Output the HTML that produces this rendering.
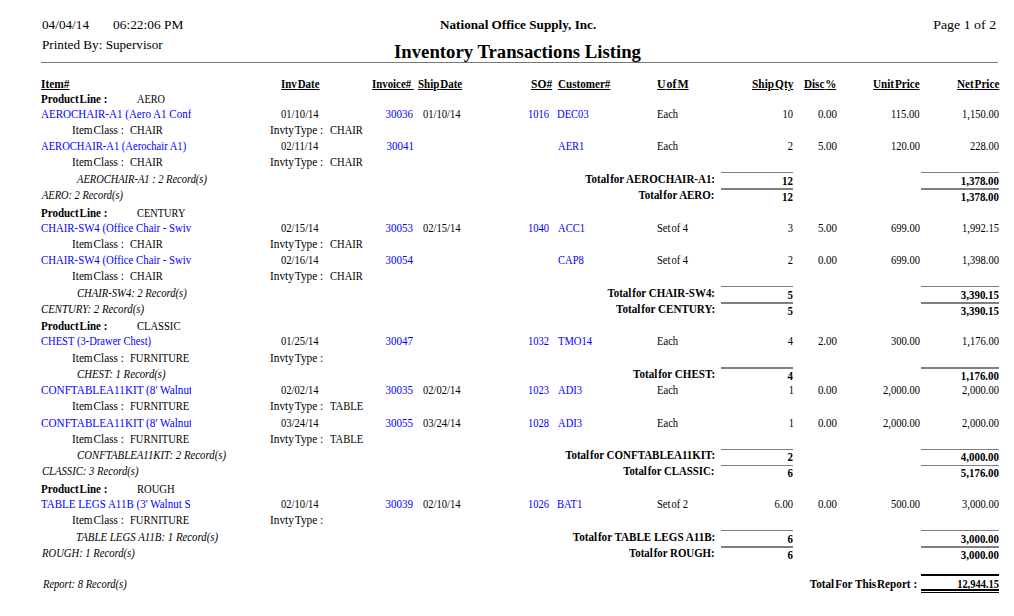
<!DOCTYPE html><html><head><meta charset="utf-8"><style>html,body{margin:0;padding:0;background:#fff;width:1014px;height:616px;overflow:hidden;position:relative}.t{position:absolute;white-space:pre;font-family:"Liberation Serif",serif;color:#000}.c{position:absolute;overflow:hidden;height:20px}.ln{position:absolute}.n{word-spacing:-2px}</style></head><body>
<div id="e0" class="t" style="font-size:13.5px;line-height:13.5px;font-weight:normal;font-style:normal;transform-origin:0 0;transform:scaleX(0.9792);left:41.81px;top:18px;">04/04/14</div>
<div id="e1" class="t" style="font-size:13.5px;line-height:13.5px;font-weight:normal;font-style:normal;transform-origin:0 0;transform:scaleX(0.9929);left:113.21px;top:18px;">06:22:06 PM</div>
<div id="e2" class="t" style="font-size:13.5px;line-height:13.5px;font-weight:normal;font-style:normal;transform-origin:0 0;transform:scaleX(0.9751);left:41.61px;top:38px;">Printed By: Supervisor</div>
<div id="e3" class="t" style="font-size:13px;line-height:13px;font-weight:bold;font-style:normal;transform-origin:0 0;transform:scaleX(1.0131);left:439.59px;top:18px;">National Office Supply, Inc.</div>
<div id="e4" class="t" style="font-size:18px;line-height:18px;font-weight:bold;font-style:normal;transform-origin:0 0;transform:scaleX(1.0405);left:394.19px;top:43px;">Inventory Transactions Listing</div>
<div id="e5" class="t" style="font-size:13.5px;line-height:13.5px;font-weight:normal;font-style:normal;transform-origin:100% 0;transform:scaleX(1.0301);right:17.60px;top:18px;">Page 1 of 2</div>
<div id="e6" class="t" style="font-size:12px;line-height:12px;font-weight:bold;font-style:normal;text-decoration:underline;transform-origin:0 0;transform:scaleX(0.9523);left:41.41px;top:78px;">Item#</div>
<div id="e7" class="t" style="font-size:12px;line-height:12px;font-weight:bold;font-style:normal;text-decoration:underline;transform-origin:0 0;transform:scaleX(0.9100);left:281.00px;top:78px;">Inv<span class=n> </span>Date</div>
<div id="e8" class="t" style="font-size:12px;line-height:12px;font-weight:bold;font-style:normal;text-decoration:underline;transform-origin:0 0;transform:scaleX(0.9035);left:371.80px;top:78px;">Invoice# </div>
<div id="e9" class="t" style="font-size:12px;line-height:12px;font-weight:bold;font-style:normal;text-decoration:underline;transform-origin:0 0;transform:scaleX(0.9143);left:418.21px;top:78px;">Ship<span class=n> </span>Date</div>
<div id="e10" class="t" style="font-size:12px;line-height:12px;font-weight:bold;font-style:normal;text-decoration:underline;transform-origin:0 0;transform:scaleX(0.9606);left:531.00px;top:78px;">SO#</div>
<div id="e11" class="t" style="font-size:12px;line-height:12px;font-weight:bold;font-style:normal;text-decoration:underline;transform-origin:0 0;transform:scaleX(0.9241);left:558.00px;top:78px;">Customer#</div>
<div id="e12" class="t" style="font-size:12px;line-height:12px;font-weight:bold;font-style:normal;text-decoration:underline;transform-origin:0 0;transform:scaleX(0.9887);left:656.80px;top:78px;">U<span class=n> </span>of<span class=n> </span>M</div>
<div id="e13" class="t" style="font-size:12px;line-height:12px;font-weight:bold;font-style:normal;text-decoration:underline;transform-origin:0 0;transform:scaleX(0.9465);left:752.00px;top:78px;">Ship<span class=n> </span>Qty</div>
<div id="e14" class="t" style="font-size:12px;line-height:12px;font-weight:bold;font-style:normal;text-decoration:underline;transform-origin:0 0;transform:scaleX(0.9244);left:803.60px;top:78px;">Disc<span class=n> </span>%</div>
<div id="e15" class="t" style="font-size:12px;line-height:12px;font-weight:bold;font-style:normal;text-decoration:underline;transform-origin:0 0;transform:scaleX(0.9259);left:873.40px;top:78px;">Unit<span class=n> </span>Price</div>
<div id="e16" class="t" style="font-size:12px;line-height:12px;font-weight:bold;font-style:normal;text-decoration:underline;transform-origin:0 0;transform:scaleX(0.9275);left:957.00px;top:78px;">Net<span class=n> </span>Price</div>
<div id="e17" class="t" style="font-size:12px;line-height:12px;font-weight:bold;font-style:normal;transform-origin:0 0;transform:scaleX(0.9156);left:41.40px;top:93px;">Product<span class=n> </span>Line :</div>
<div id="e18" class="t" style="font-size:12px;line-height:12px;font-weight:normal;font-style:normal;transform-origin:0 0;transform:scaleX(0.8560);left:136.81px;top:93px;">AERO</div>
<div class="c" style="left:41.20px;top:104px;width:150.10px"><div id="e19" class="t" style="font-size:12px;line-height:12px;font-weight:normal;font-style:normal;color:#0000ff;transform-origin:0 0;transform:scaleX(0.9188);left:-0.40px;top:4px;">AEROCHAIR-A1 (Aero A1 Conference Chair)</div></div>
<div id="e20" class="t" style="font-size:12px;line-height:12px;font-weight:normal;font-style:normal;transform-origin:100% 0;transform:scaleX(0.8825);right:695.61px;top:108px;">01/10/14</div>
<div id="e21" class="t" style="font-size:12px;line-height:12px;font-weight:normal;font-style:normal;color:#0000ff;transform-origin:100% 0;transform:scaleX(0.9177);right:601.41px;top:108px;">30036</div>
<div id="e22" class="t" style="font-size:12px;line-height:12px;font-weight:normal;font-style:normal;transform-origin:0 0;transform:scaleX(0.8825);left:422.81px;top:108px;">01/10/14</div>
<div id="e23" class="t" style="font-size:12px;line-height:12px;font-weight:normal;font-style:normal;color:#0000ff;transform-origin:100% 0;transform:scaleX(0.8800);right:465.00px;top:108px;">1016</div>
<div id="e24" class="t" style="font-size:12px;line-height:12px;font-weight:normal;font-style:normal;color:#0000ff;transform-origin:0 0;transform:scaleX(0.8800);left:557.00px;top:108px;">DEC03</div>
<div id="e25" class="t" style="font-size:12px;line-height:12px;font-weight:normal;font-style:normal;transform-origin:0 0;transform:scaleX(0.8800);left:656.80px;top:108px;">Each</div>
<div id="e26" class="t" style="font-size:12px;line-height:12px;font-weight:normal;font-style:normal;transform-origin:100% 0;transform:scaleX(0.8800);right:221.20px;top:108px;">10</div>
<div id="e27" class="t" style="font-size:12px;line-height:12px;font-weight:normal;font-style:normal;transform-origin:100% 0;transform:scaleX(0.9106);right:177.21px;top:108px;">0.00</div>
<div id="e28" class="t" style="font-size:12px;line-height:12px;font-weight:normal;font-style:normal;transform-origin:100% 0;transform:scaleX(0.8800);right:94.20px;top:108px;">115.00</div>
<div id="e29" class="t" style="font-size:12px;line-height:12px;font-weight:normal;font-style:normal;transform-origin:100% 0;transform:scaleX(0.8800);right:14.60px;top:108px;">1,150.00</div>
<div id="e30" class="t" style="font-size:12px;line-height:12px;font-weight:normal;font-style:normal;transform-origin:0 0;transform:scaleX(0.9382);left:72.34px;top:124px;">Item<span class=n> </span>Class :</div>
<div id="e31" class="t" style="font-size:12px;line-height:12px;font-weight:normal;font-style:normal;transform-origin:0 0;transform:scaleX(0.8800);left:129.80px;top:124px;">CHAIR</div>
<div id="e32" class="t" style="font-size:12px;line-height:12px;font-weight:normal;font-style:normal;transform-origin:0 0;transform:scaleX(0.9424);left:269.93px;top:124px;">Invty<span class=n> </span>Type :</div>
<div id="e33" class="t" style="font-size:12px;line-height:12px;font-weight:normal;font-style:normal;transform-origin:0 0;transform:scaleX(0.8800);left:329.80px;top:124px;">CHAIR</div>
<div class="c" style="left:41.20px;top:136px;width:150.10px"><div id="e34" class="t" style="font-size:12px;line-height:12px;font-weight:normal;font-style:normal;color:#0000ff;transform-origin:0 0;transform:scaleX(0.8818);left:-0.40px;top:4px;">AEROCHAIR-A1 (Aerochair A1)</div></div>
<div id="e35" class="t" style="font-size:12px;line-height:12px;font-weight:normal;font-style:normal;transform-origin:100% 0;transform:scaleX(0.8825);right:695.58px;top:140px;">02/11/14</div>
<div id="e36" class="t" style="font-size:12px;line-height:12px;font-weight:normal;font-style:normal;color:#0000ff;transform-origin:100% 0;transform:scaleX(0.9191);right:600.36px;top:140px;">30041</div>
<div id="e37" class="t" style="font-size:12px;line-height:12px;font-weight:normal;font-style:normal;color:#0000ff;transform-origin:0 0;transform:scaleX(0.8800);left:558.00px;top:140px;">AER1</div>
<div id="e38" class="t" style="font-size:12px;line-height:12px;font-weight:normal;font-style:normal;transform-origin:0 0;transform:scaleX(0.8800);left:656.80px;top:140px;">Each</div>
<div id="e39" class="t" style="font-size:12px;line-height:12px;font-weight:normal;font-style:normal;transform-origin:100% 0;transform:scaleX(0.8800);right:221.20px;top:140px;">2</div>
<div id="e40" class="t" style="font-size:12px;line-height:12px;font-weight:normal;font-style:normal;transform-origin:100% 0;transform:scaleX(0.9106);right:177.17px;top:140px;">5.00</div>
<div id="e41" class="t" style="font-size:12px;line-height:12px;font-weight:normal;font-style:normal;transform-origin:100% 0;transform:scaleX(0.8800);right:94.20px;top:140px;">120.00</div>
<div id="e42" class="t" style="font-size:12px;line-height:12px;font-weight:normal;font-style:normal;transform-origin:100% 0;transform:scaleX(0.8800);right:14.60px;top:140px;">228.00</div>
<div id="e43" class="t" style="font-size:12px;line-height:12px;font-weight:normal;font-style:normal;transform-origin:0 0;transform:scaleX(0.9382);left:72.34px;top:156px;">Item<span class=n> </span>Class :</div>
<div id="e44" class="t" style="font-size:12px;line-height:12px;font-weight:normal;font-style:normal;transform-origin:0 0;transform:scaleX(0.8800);left:129.80px;top:156px;">CHAIR</div>
<div id="e45" class="t" style="font-size:12px;line-height:12px;font-weight:normal;font-style:normal;transform-origin:0 0;transform:scaleX(0.9424);left:269.93px;top:156px;">Invty<span class=n> </span>Type :</div>
<div id="e46" class="t" style="font-size:12px;line-height:12px;font-weight:normal;font-style:normal;transform-origin:0 0;transform:scaleX(0.8800);left:329.80px;top:156px;">CHAIR</div>
<div id="e47" class="t" style="font-size:12px;line-height:12px;font-weight:normal;font-style:italic;transform-origin:0 0;transform:scaleX(0.8707);left:77.18px;top:173px;">AEROCHAIR-A1 : 2 Record(s)</div>
<div id="e48" class="t" style="font-size:12px;line-height:12px;font-weight:bold;font-style:normal;transform-origin:100% 0;transform:scaleX(0.9136);right:299.00px;top:173px;">Total<span class=n> </span>for AEROCHAIR-A1:</div>
<div id="e49" class="t" style="font-size:12px;line-height:12px;font-weight:bold;font-style:normal;transform-origin:100% 0;transform:scaleX(0.9100);right:221.00px;top:175px;">12</div>
<div id="e50" class="t" style="font-size:12px;line-height:12px;font-weight:bold;font-style:normal;transform-origin:100% 0;transform:scaleX(0.9100);right:14.60px;top:175px;">1,378.00</div>
<div id="e51" class="t" style="font-size:12px;line-height:12px;font-weight:normal;font-style:italic;transform-origin:0 0;transform:scaleX(0.8660);left:41.99px;top:189px;">AERO: 2 Record(s)</div>
<div id="e52" class="t" style="font-size:12px;line-height:12px;font-weight:bold;font-style:normal;transform-origin:100% 0;transform:scaleX(0.9100);right:300.00px;top:189px;">Total<span class=n> </span>for AERO:</div>
<div id="e53" class="t" style="font-size:12px;line-height:12px;font-weight:bold;font-style:normal;transform-origin:100% 0;transform:scaleX(0.9100);right:221.00px;top:191px;">12</div>
<div id="e54" class="t" style="font-size:12px;line-height:12px;font-weight:bold;font-style:normal;transform-origin:100% 0;transform:scaleX(0.9100);right:14.60px;top:191px;">1,378.00</div>
<div id="e55" class="t" style="font-size:12px;line-height:12px;font-weight:bold;font-style:normal;transform-origin:0 0;transform:scaleX(0.9156);left:41.40px;top:207px;">Product<span class=n> </span>Line :</div>
<div id="e56" class="t" style="font-size:12px;line-height:12px;font-weight:normal;font-style:normal;transform-origin:0 0;transform:scaleX(0.8639);left:136.80px;top:207px;">CENTURY</div>
<div class="c" style="left:41.20px;top:218px;width:150.10px"><div id="e57" class="t" style="font-size:12px;line-height:12px;font-weight:normal;font-style:normal;color:#0000ff;transform-origin:0 0;transform:scaleX(0.8989);left:-0.40px;top:4px;">CHAIR-SW4 (Office Chair - Swivel)</div></div>
<div id="e58" class="t" style="font-size:12px;line-height:12px;font-weight:normal;font-style:normal;transform-origin:100% 0;transform:scaleX(0.8825);right:695.61px;top:222px;">02/15/14</div>
<div id="e59" class="t" style="font-size:12px;line-height:12px;font-weight:normal;font-style:normal;color:#0000ff;transform-origin:100% 0;transform:scaleX(0.9177);right:601.41px;top:222px;">30053</div>
<div id="e60" class="t" style="font-size:12px;line-height:12px;font-weight:normal;font-style:normal;transform-origin:0 0;transform:scaleX(0.8825);left:422.81px;top:222px;">02/15/14</div>
<div id="e61" class="t" style="font-size:12px;line-height:12px;font-weight:normal;font-style:normal;color:#0000ff;transform-origin:100% 0;transform:scaleX(0.8800);right:465.00px;top:222px;">1040</div>
<div id="e62" class="t" style="font-size:12px;line-height:12px;font-weight:normal;font-style:normal;color:#0000ff;transform-origin:0 0;transform:scaleX(0.8800);left:558.00px;top:222px;">ACC1</div>
<div id="e63" class="t" style="font-size:12px;line-height:12px;font-weight:normal;font-style:normal;transform-origin:0 0;transform:scaleX(0.8800);left:656.80px;top:222px;">Set<span class=n> </span>of 4</div>
<div id="e64" class="t" style="font-size:12px;line-height:12px;font-weight:normal;font-style:normal;transform-origin:100% 0;transform:scaleX(0.8800);right:221.20px;top:222px;">3</div>
<div id="e65" class="t" style="font-size:12px;line-height:12px;font-weight:normal;font-style:normal;transform-origin:100% 0;transform:scaleX(0.9106);right:177.17px;top:222px;">5.00</div>
<div id="e66" class="t" style="font-size:12px;line-height:12px;font-weight:normal;font-style:normal;transform-origin:100% 0;transform:scaleX(0.8800);right:94.20px;top:222px;">699.00</div>
<div id="e67" class="t" style="font-size:12px;line-height:12px;font-weight:normal;font-style:normal;transform-origin:100% 0;transform:scaleX(0.8800);right:14.60px;top:222px;">1,992.15</div>
<div id="e68" class="t" style="font-size:12px;line-height:12px;font-weight:normal;font-style:normal;transform-origin:0 0;transform:scaleX(0.9382);left:72.34px;top:238px;">Item<span class=n> </span>Class :</div>
<div id="e69" class="t" style="font-size:12px;line-height:12px;font-weight:normal;font-style:normal;transform-origin:0 0;transform:scaleX(0.8800);left:129.80px;top:238px;">CHAIR</div>
<div id="e70" class="t" style="font-size:12px;line-height:12px;font-weight:normal;font-style:normal;transform-origin:0 0;transform:scaleX(0.9424);left:269.93px;top:238px;">Invty<span class=n> </span>Type :</div>
<div id="e71" class="t" style="font-size:12px;line-height:12px;font-weight:normal;font-style:normal;transform-origin:0 0;transform:scaleX(0.8800);left:329.80px;top:238px;">CHAIR</div>
<div class="c" style="left:41.20px;top:250px;width:150.10px"><div id="e72" class="t" style="font-size:12px;line-height:12px;font-weight:normal;font-style:normal;color:#0000ff;transform-origin:0 0;transform:scaleX(0.8989);left:-0.40px;top:4px;">CHAIR-SW4 (Office Chair - Swivel)</div></div>
<div id="e73" class="t" style="font-size:12px;line-height:12px;font-weight:normal;font-style:normal;transform-origin:100% 0;transform:scaleX(0.8825);right:695.61px;top:254px;">02/16/14</div>
<div id="e74" class="t" style="font-size:12px;line-height:12px;font-weight:normal;font-style:normal;color:#0000ff;transform-origin:100% 0;transform:scaleX(0.9177);right:601.41px;top:254px;">30054</div>
<div id="e75" class="t" style="font-size:12px;line-height:12px;font-weight:normal;font-style:normal;color:#0000ff;transform-origin:0 0;transform:scaleX(0.8800);left:558.00px;top:254px;">CAP8</div>
<div id="e76" class="t" style="font-size:12px;line-height:12px;font-weight:normal;font-style:normal;transform-origin:0 0;transform:scaleX(0.8800);left:656.80px;top:254px;">Set<span class=n> </span>of 4</div>
<div id="e77" class="t" style="font-size:12px;line-height:12px;font-weight:normal;font-style:normal;transform-origin:100% 0;transform:scaleX(0.8800);right:221.20px;top:254px;">2</div>
<div id="e78" class="t" style="font-size:12px;line-height:12px;font-weight:normal;font-style:normal;transform-origin:100% 0;transform:scaleX(0.9106);right:177.21px;top:254px;">0.00</div>
<div id="e79" class="t" style="font-size:12px;line-height:12px;font-weight:normal;font-style:normal;transform-origin:100% 0;transform:scaleX(0.8800);right:94.20px;top:254px;">699.00</div>
<div id="e80" class="t" style="font-size:12px;line-height:12px;font-weight:normal;font-style:normal;transform-origin:100% 0;transform:scaleX(0.8800);right:14.60px;top:254px;">1,398.00</div>
<div id="e81" class="t" style="font-size:12px;line-height:12px;font-weight:normal;font-style:normal;transform-origin:0 0;transform:scaleX(0.9382);left:72.34px;top:270px;">Item<span class=n> </span>Class :</div>
<div id="e82" class="t" style="font-size:12px;line-height:12px;font-weight:normal;font-style:normal;transform-origin:0 0;transform:scaleX(0.8800);left:129.80px;top:270px;">CHAIR</div>
<div id="e83" class="t" style="font-size:12px;line-height:12px;font-weight:normal;font-style:normal;transform-origin:0 0;transform:scaleX(0.9424);left:269.93px;top:270px;">Invty<span class=n> </span>Type :</div>
<div id="e84" class="t" style="font-size:12px;line-height:12px;font-weight:normal;font-style:normal;transform-origin:0 0;transform:scaleX(0.8800);left:329.80px;top:270px;">CHAIR</div>
<div id="e85" class="t" style="font-size:12px;line-height:12px;font-weight:normal;font-style:italic;transform-origin:0 0;transform:scaleX(0.8837);left:77.21px;top:287px;">CHAIR-SW4: 2 Record(s)</div>
<div id="e86" class="t" style="font-size:12px;line-height:12px;font-weight:bold;font-style:normal;transform-origin:100% 0;transform:scaleX(0.9117);right:299.00px;top:287px;">Total<span class=n> </span>for CHAIR-SW4:</div>
<div id="e87" class="t" style="font-size:12px;line-height:12px;font-weight:bold;font-style:normal;transform-origin:100% 0;transform:scaleX(0.9100);right:221.00px;top:289px;">5</div>
<div id="e88" class="t" style="font-size:12px;line-height:12px;font-weight:bold;font-style:normal;transform-origin:100% 0;transform:scaleX(0.9100);right:14.60px;top:289px;">3,390.15</div>
<div id="e89" class="t" style="font-size:12px;line-height:12px;font-weight:normal;font-style:italic;transform-origin:0 0;transform:scaleX(0.8996);left:40.80px;top:303px;">CENTURY: 2 Record(s)</div>
<div id="e90" class="t" style="font-size:12px;line-height:12px;font-weight:bold;font-style:normal;transform-origin:100% 0;transform:scaleX(0.9252);right:298.98px;top:303px;">Total<span class=n> </span>for CENTURY:</div>
<div id="e91" class="t" style="font-size:12px;line-height:12px;font-weight:bold;font-style:normal;transform-origin:100% 0;transform:scaleX(0.9100);right:221.00px;top:305px;">5</div>
<div id="e92" class="t" style="font-size:12px;line-height:12px;font-weight:bold;font-style:normal;transform-origin:100% 0;transform:scaleX(0.9100);right:14.60px;top:305px;">3,390.15</div>
<div id="e93" class="t" style="font-size:12px;line-height:12px;font-weight:bold;font-style:normal;transform-origin:0 0;transform:scaleX(0.9156);left:41.40px;top:320px;">Product<span class=n> </span>Line :</div>
<div id="e94" class="t" style="font-size:12px;line-height:12px;font-weight:normal;font-style:normal;transform-origin:0 0;transform:scaleX(0.8800);left:136.80px;top:320px;">CLASSIC</div>
<div class="c" style="left:41.20px;top:331px;width:150.10px"><div id="e95" class="t" style="font-size:12px;line-height:12px;font-weight:normal;font-style:normal;color:#0000ff;transform-origin:0 0;transform:scaleX(0.8800);left:-0.40px;top:4px;">CHEST (3-Drawer Chest)</div></div>
<div id="e96" class="t" style="font-size:12px;line-height:12px;font-weight:normal;font-style:normal;transform-origin:100% 0;transform:scaleX(0.8825);right:695.61px;top:335px;">01/25/14</div>
<div id="e97" class="t" style="font-size:12px;line-height:12px;font-weight:normal;font-style:normal;color:#0000ff;transform-origin:100% 0;transform:scaleX(0.9177);right:601.41px;top:335px;">30047</div>
<div id="e98" class="t" style="font-size:12px;line-height:12px;font-weight:normal;font-style:normal;color:#0000ff;transform-origin:100% 0;transform:scaleX(0.8800);right:465.00px;top:335px;">1032</div>
<div id="e99" class="t" style="font-size:12px;line-height:12px;font-weight:normal;font-style:normal;color:#0000ff;transform-origin:0 0;transform:scaleX(0.8800);left:558.00px;top:335px;">TMO14</div>
<div id="e100" class="t" style="font-size:12px;line-height:12px;font-weight:normal;font-style:normal;transform-origin:0 0;transform:scaleX(0.8800);left:656.80px;top:335px;">Each</div>
<div id="e101" class="t" style="font-size:12px;line-height:12px;font-weight:normal;font-style:normal;transform-origin:100% 0;transform:scaleX(0.8800);right:221.20px;top:335px;">4</div>
<div id="e102" class="t" style="font-size:12px;line-height:12px;font-weight:normal;font-style:normal;transform-origin:100% 0;transform:scaleX(0.9106);right:177.21px;top:335px;">2.00</div>
<div id="e103" class="t" style="font-size:12px;line-height:12px;font-weight:normal;font-style:normal;transform-origin:100% 0;transform:scaleX(0.8800);right:94.20px;top:335px;">300.00</div>
<div id="e104" class="t" style="font-size:12px;line-height:12px;font-weight:normal;font-style:normal;transform-origin:100% 0;transform:scaleX(0.8800);right:14.60px;top:335px;">1,176.00</div>
<div id="e105" class="t" style="font-size:12px;line-height:12px;font-weight:normal;font-style:normal;transform-origin:0 0;transform:scaleX(0.9382);left:72.34px;top:352px;">Item<span class=n> </span>Class :</div>
<div id="e106" class="t" style="font-size:12px;line-height:12px;font-weight:normal;font-style:normal;transform-origin:0 0;transform:scaleX(0.8800);left:129.80px;top:352px;">FURNITURE</div>
<div id="e107" class="t" style="font-size:12px;line-height:12px;font-weight:normal;font-style:normal;transform-origin:0 0;transform:scaleX(0.9424);left:269.93px;top:352px;">Invty<span class=n> </span>Type :</div>
<div id="e108" class="t" style="font-size:12px;line-height:12px;font-weight:normal;font-style:italic;transform-origin:0 0;transform:scaleX(0.8963);left:77.21px;top:368px;">CHEST: 1 Record(s)</div>
<div id="e109" class="t" style="font-size:12px;line-height:12px;font-weight:bold;font-style:normal;transform-origin:100% 0;transform:scaleX(0.9203);right:298.99px;top:368px;">Total<span class=n> </span>for CHEST:</div>
<div id="e110" class="t" style="font-size:12px;line-height:12px;font-weight:bold;font-style:normal;transform-origin:100% 0;transform:scaleX(0.9100);right:221.00px;top:370px;">4</div>
<div id="e111" class="t" style="font-size:12px;line-height:12px;font-weight:bold;font-style:normal;transform-origin:100% 0;transform:scaleX(0.9100);right:14.60px;top:370px;">1,176.00</div>
<div class="c" style="left:41.20px;top:380px;width:150.10px"><div id="e112" class="t" style="font-size:12px;line-height:12px;font-weight:normal;font-style:normal;color:#0000ff;transform-origin:0 0;transform:scaleX(0.9327);left:-0.40px;top:4px;">CONFTABLEA11KIT (8' Walnut Conference Table)</div></div>
<div id="e113" class="t" style="font-size:12px;line-height:12px;font-weight:normal;font-style:normal;transform-origin:100% 0;transform:scaleX(0.8825);right:695.61px;top:384px;">02/02/14</div>
<div id="e114" class="t" style="font-size:12px;line-height:12px;font-weight:normal;font-style:normal;color:#0000ff;transform-origin:100% 0;transform:scaleX(0.9177);right:601.41px;top:384px;">30035</div>
<div id="e115" class="t" style="font-size:12px;line-height:12px;font-weight:normal;font-style:normal;transform-origin:0 0;transform:scaleX(0.8825);left:422.81px;top:384px;">02/02/14</div>
<div id="e116" class="t" style="font-size:12px;line-height:12px;font-weight:normal;font-style:normal;color:#0000ff;transform-origin:100% 0;transform:scaleX(0.8800);right:465.00px;top:384px;">1023</div>
<div id="e117" class="t" style="font-size:12px;line-height:12px;font-weight:normal;font-style:normal;color:#0000ff;transform-origin:0 0;transform:scaleX(0.8800);left:558.00px;top:384px;">ADI3</div>
<div id="e118" class="t" style="font-size:12px;line-height:12px;font-weight:normal;font-style:normal;transform-origin:0 0;transform:scaleX(0.8800);left:656.80px;top:384px;">Each</div>
<div id="e119" class="t" style="font-size:12px;line-height:12px;font-weight:normal;font-style:normal;transform-origin:100% 0;transform:scaleX(0.8800);right:220.20px;top:384px;">1</div>
<div id="e120" class="t" style="font-size:12px;line-height:12px;font-weight:normal;font-style:normal;transform-origin:100% 0;transform:scaleX(0.9106);right:177.21px;top:384px;">0.00</div>
<div id="e121" class="t" style="font-size:12px;line-height:12px;font-weight:normal;font-style:normal;transform-origin:100% 0;transform:scaleX(0.8800);right:94.20px;top:384px;">2,000.00</div>
<div id="e122" class="t" style="font-size:12px;line-height:12px;font-weight:normal;font-style:normal;transform-origin:100% 0;transform:scaleX(0.8800);right:14.60px;top:384px;">2,000.00</div>
<div id="e123" class="t" style="font-size:12px;line-height:12px;font-weight:normal;font-style:normal;transform-origin:0 0;transform:scaleX(0.9382);left:72.34px;top:400px;">Item<span class=n> </span>Class :</div>
<div id="e124" class="t" style="font-size:12px;line-height:12px;font-weight:normal;font-style:normal;transform-origin:0 0;transform:scaleX(0.8800);left:129.80px;top:400px;">FURNITURE</div>
<div id="e125" class="t" style="font-size:12px;line-height:12px;font-weight:normal;font-style:normal;transform-origin:0 0;transform:scaleX(0.9424);left:269.93px;top:400px;">Invty<span class=n> </span>Type :</div>
<div id="e126" class="t" style="font-size:12px;line-height:12px;font-weight:normal;font-style:normal;transform-origin:0 0;transform:scaleX(0.8800);left:329.80px;top:400px;">TABLE</div>
<div class="c" style="left:41.20px;top:413px;width:150.10px"><div id="e127" class="t" style="font-size:12px;line-height:12px;font-weight:normal;font-style:normal;color:#0000ff;transform-origin:0 0;transform:scaleX(0.9327);left:-0.40px;top:4px;">CONFTABLEA11KIT (8' Walnut Conference Table)</div></div>
<div id="e128" class="t" style="font-size:12px;line-height:12px;font-weight:normal;font-style:normal;transform-origin:100% 0;transform:scaleX(0.8825);right:695.61px;top:417px;">03/24/14</div>
<div id="e129" class="t" style="font-size:12px;line-height:12px;font-weight:normal;font-style:normal;color:#0000ff;transform-origin:100% 0;transform:scaleX(0.9177);right:601.41px;top:417px;">30055</div>
<div id="e130" class="t" style="font-size:12px;line-height:12px;font-weight:normal;font-style:normal;transform-origin:0 0;transform:scaleX(0.8825);left:422.81px;top:417px;">03/24/14</div>
<div id="e131" class="t" style="font-size:12px;line-height:12px;font-weight:normal;font-style:normal;color:#0000ff;transform-origin:100% 0;transform:scaleX(0.8800);right:465.00px;top:417px;">1028</div>
<div id="e132" class="t" style="font-size:12px;line-height:12px;font-weight:normal;font-style:normal;color:#0000ff;transform-origin:0 0;transform:scaleX(0.8800);left:558.00px;top:417px;">ADI3</div>
<div id="e133" class="t" style="font-size:12px;line-height:12px;font-weight:normal;font-style:normal;transform-origin:0 0;transform:scaleX(0.8800);left:656.80px;top:417px;">Each</div>
<div id="e134" class="t" style="font-size:12px;line-height:12px;font-weight:normal;font-style:normal;transform-origin:100% 0;transform:scaleX(0.8800);right:220.20px;top:417px;">1</div>
<div id="e135" class="t" style="font-size:12px;line-height:12px;font-weight:normal;font-style:normal;transform-origin:100% 0;transform:scaleX(0.9106);right:177.21px;top:417px;">0.00</div>
<div id="e136" class="t" style="font-size:12px;line-height:12px;font-weight:normal;font-style:normal;transform-origin:100% 0;transform:scaleX(0.8800);right:94.20px;top:417px;">2,000.00</div>
<div id="e137" class="t" style="font-size:12px;line-height:12px;font-weight:normal;font-style:normal;transform-origin:100% 0;transform:scaleX(0.8800);right:14.60px;top:417px;">2,000.00</div>
<div id="e138" class="t" style="font-size:12px;line-height:12px;font-weight:normal;font-style:normal;transform-origin:0 0;transform:scaleX(0.9382);left:72.34px;top:433px;">Item<span class=n> </span>Class :</div>
<div id="e139" class="t" style="font-size:12px;line-height:12px;font-weight:normal;font-style:normal;transform-origin:0 0;transform:scaleX(0.8800);left:129.80px;top:433px;">FURNITURE</div>
<div id="e140" class="t" style="font-size:12px;line-height:12px;font-weight:normal;font-style:normal;transform-origin:0 0;transform:scaleX(0.9424);left:269.93px;top:433px;">Invty<span class=n> </span>Type :</div>
<div id="e141" class="t" style="font-size:12px;line-height:12px;font-weight:normal;font-style:normal;transform-origin:0 0;transform:scaleX(0.8800);left:329.80px;top:433px;">TABLE</div>
<div id="e142" class="t" style="font-size:12px;line-height:12px;font-weight:normal;font-style:italic;transform-origin:0 0;transform:scaleX(0.8990);left:77.21px;top:449px;">CONFTABLEA11KIT: 2 Record(s)</div>
<div id="e143" class="t" style="font-size:12px;line-height:12px;font-weight:bold;font-style:normal;transform-origin:100% 0;transform:scaleX(0.9137);right:299.00px;top:449px;">Total<span class=n> </span>for CONFTABLEA11KIT:</div>
<div id="e144" class="t" style="font-size:12px;line-height:12px;font-weight:bold;font-style:normal;transform-origin:100% 0;transform:scaleX(0.9100);right:221.00px;top:451px;">2</div>
<div id="e145" class="t" style="font-size:12px;line-height:12px;font-weight:bold;font-style:normal;transform-origin:100% 0;transform:scaleX(0.9100);right:14.60px;top:451px;">4,000.00</div>
<div id="e146" class="t" style="font-size:12px;line-height:12px;font-weight:normal;font-style:italic;transform-origin:0 0;transform:scaleX(0.8865);left:41.99px;top:465px;">CLASSIC: 3 Record(s)</div>
<div id="e147" class="t" style="font-size:12px;line-height:12px;font-weight:bold;font-style:normal;transform-origin:100% 0;transform:scaleX(0.8992);right:300.00px;top:465px;">Total<span class=n> </span>for CLASSIC:</div>
<div id="e148" class="t" style="font-size:12px;line-height:12px;font-weight:bold;font-style:normal;transform-origin:100% 0;transform:scaleX(0.9100);right:221.00px;top:467px;">6</div>
<div id="e149" class="t" style="font-size:12px;line-height:12px;font-weight:bold;font-style:normal;transform-origin:100% 0;transform:scaleX(0.9100);right:14.60px;top:467px;">5,176.00</div>
<div id="e150" class="t" style="font-size:12px;line-height:12px;font-weight:bold;font-style:normal;transform-origin:0 0;transform:scaleX(0.9156);left:41.40px;top:483px;">Product<span class=n> </span>Line :</div>
<div id="e151" class="t" style="font-size:12px;line-height:12px;font-weight:normal;font-style:normal;transform-origin:0 0;transform:scaleX(0.8800);left:136.80px;top:483px;">ROUGH</div>
<div class="c" style="left:41.20px;top:494px;width:150.10px"><div id="e152" class="t" style="font-size:12px;line-height:12px;font-weight:normal;font-style:normal;color:#0000ff;transform-origin:0 0;transform:scaleX(0.9164);left:-0.40px;top:4px;">TABLE LEGS A11B (3' Walnut Stained Legs)</div></div>
<div id="e153" class="t" style="font-size:12px;line-height:12px;font-weight:normal;font-style:normal;transform-origin:100% 0;transform:scaleX(0.8825);right:695.61px;top:498px;">02/10/14</div>
<div id="e154" class="t" style="font-size:12px;line-height:12px;font-weight:normal;font-style:normal;color:#0000ff;transform-origin:100% 0;transform:scaleX(0.9177);right:601.41px;top:498px;">30039</div>
<div id="e155" class="t" style="font-size:12px;line-height:12px;font-weight:normal;font-style:normal;transform-origin:0 0;transform:scaleX(0.8825);left:422.81px;top:498px;">02/10/14</div>
<div id="e156" class="t" style="font-size:12px;line-height:12px;font-weight:normal;font-style:normal;color:#0000ff;transform-origin:100% 0;transform:scaleX(0.8800);right:465.00px;top:498px;">1026</div>
<div id="e157" class="t" style="font-size:12px;line-height:12px;font-weight:normal;font-style:normal;color:#0000ff;transform-origin:0 0;transform:scaleX(0.8800);left:557.00px;top:498px;">BAT1</div>
<div id="e158" class="t" style="font-size:12px;line-height:12px;font-weight:normal;font-style:normal;transform-origin:0 0;transform:scaleX(0.8800);left:656.80px;top:498px;">Set<span class=n> </span>of 2</div>
<div id="e159" class="t" style="font-size:12px;line-height:12px;font-weight:normal;font-style:normal;transform-origin:100% 0;transform:scaleX(0.8800);right:221.20px;top:498px;">6.00</div>
<div id="e160" class="t" style="font-size:12px;line-height:12px;font-weight:normal;font-style:normal;transform-origin:100% 0;transform:scaleX(0.9106);right:177.21px;top:498px;">0.00</div>
<div id="e161" class="t" style="font-size:12px;line-height:12px;font-weight:normal;font-style:normal;transform-origin:100% 0;transform:scaleX(0.8800);right:94.20px;top:498px;">500.00</div>
<div id="e162" class="t" style="font-size:12px;line-height:12px;font-weight:normal;font-style:normal;transform-origin:100% 0;transform:scaleX(0.8800);right:14.60px;top:498px;">3,000.00</div>
<div id="e163" class="t" style="font-size:12px;line-height:12px;font-weight:normal;font-style:normal;transform-origin:0 0;transform:scaleX(0.9382);left:72.34px;top:514px;">Item<span class=n> </span>Class :</div>
<div id="e164" class="t" style="font-size:12px;line-height:12px;font-weight:normal;font-style:normal;transform-origin:0 0;transform:scaleX(0.8800);left:129.80px;top:514px;">FURNITURE</div>
<div id="e165" class="t" style="font-size:12px;line-height:12px;font-weight:normal;font-style:normal;transform-origin:0 0;transform:scaleX(0.9424);left:269.93px;top:514px;">Invty<span class=n> </span>Type :</div>
<div id="e166" class="t" style="font-size:12px;line-height:12px;font-weight:normal;font-style:italic;transform-origin:0 0;transform:scaleX(0.9026);left:76.18px;top:531px;">TABLE LEGS A11B: 1 Record(s)</div>
<div id="e167" class="t" style="font-size:12px;line-height:12px;font-weight:bold;font-style:normal;transform-origin:100% 0;transform:scaleX(0.9237);right:299.00px;top:531px;">Total<span class=n> </span>for TABLE LEGS A11B:</div>
<div id="e168" class="t" style="font-size:12px;line-height:12px;font-weight:bold;font-style:normal;transform-origin:100% 0;transform:scaleX(0.9100);right:221.00px;top:533px;">6</div>
<div id="e169" class="t" style="font-size:12px;line-height:12px;font-weight:bold;font-style:normal;transform-origin:100% 0;transform:scaleX(0.9100);right:14.60px;top:533px;">3,000.00</div>
<div id="e170" class="t" style="font-size:12px;line-height:12px;font-weight:normal;font-style:italic;transform-origin:0 0;transform:scaleX(0.8844);left:41.99px;top:547px;">ROUGH: 1 Record(s)</div>
<div id="e171" class="t" style="font-size:12px;line-height:12px;font-weight:bold;font-style:normal;transform-origin:100% 0;transform:scaleX(0.9047);right:299.01px;top:547px;">Total<span class=n> </span>for ROUGH:</div>
<div id="e172" class="t" style="font-size:12px;line-height:12px;font-weight:bold;font-style:normal;transform-origin:100% 0;transform:scaleX(0.9100);right:221.00px;top:549px;">6</div>
<div id="e173" class="t" style="font-size:12px;line-height:12px;font-weight:bold;font-style:normal;transform-origin:100% 0;transform:scaleX(0.9100);right:14.60px;top:549px;">3,000.00</div>
<div id="e174" class="t" style="font-size:12px;line-height:12px;font-weight:normal;font-style:italic;transform-origin:0 0;transform:scaleX(0.8764);left:43.19px;top:578px;">Report: 8 Record(s)</div>
<div id="e175" class="t" style="font-size:12px;line-height:12px;font-weight:bold;font-style:normal;transform-origin:100% 0;transform:scaleX(0.9328);right:97.17px;top:578px;">Total<span class=n> </span>For This<span class=n> </span>Report :</div>
<div id="e176" class="t" style="font-size:12px;line-height:12px;font-weight:bold;font-style:normal;transform-origin:100% 0;transform:scaleX(0.8720);right:15.39px;top:578px;">12,944.15</div>
<div class="ln" style="left:41px;top:62px;width:957px;height:1px;background:#777777"></div>
<div class="ln" style="left:721px;top:172px;width:72px;height:1px;background:#808080"></div>
<div class="ln" style="left:921px;top:172px;width:78px;height:1px;background:#808080"></div>
<div class="ln" style="left:721px;top:188px;width:72px;height:2px;background:#808080"></div>
<div class="ln" style="left:921px;top:188px;width:78px;height:2px;background:#808080"></div>
<div class="ln" style="left:721px;top:286px;width:72px;height:1px;background:#808080"></div>
<div class="ln" style="left:921px;top:286px;width:78px;height:1px;background:#808080"></div>
<div class="ln" style="left:721px;top:302px;width:72px;height:2px;background:#808080"></div>
<div class="ln" style="left:921px;top:302px;width:78px;height:2px;background:#808080"></div>
<div class="ln" style="left:721px;top:367px;width:72px;height:2px;background:#808080"></div>
<div class="ln" style="left:921px;top:367px;width:78px;height:2px;background:#808080"></div>
<div class="ln" style="left:721px;top:449px;width:72px;height:1px;background:#808080"></div>
<div class="ln" style="left:921px;top:449px;width:78px;height:1px;background:#808080"></div>
<div class="ln" style="left:721px;top:465px;width:72px;height:1px;background:#808080"></div>
<div class="ln" style="left:921px;top:465px;width:78px;height:1px;background:#808080"></div>
<div class="ln" style="left:721px;top:530px;width:72px;height:1px;background:#808080"></div>
<div class="ln" style="left:921px;top:530px;width:78px;height:1px;background:#808080"></div>
<div class="ln" style="left:721px;top:546px;width:72px;height:2px;background:#808080"></div>
<div class="ln" style="left:921px;top:546px;width:78px;height:2px;background:#808080"></div>
<div class="ln" style="left:921px;top:574px;width:78px;height:2px;background:#000"></div>
<div class="ln" style="left:921px;top:589px;width:78px;height:2px;background:#000"></div>
<div class="ln" style="left:921px;top:592px;width:78px;height:1px;background:#000"></div>
</body></html>
